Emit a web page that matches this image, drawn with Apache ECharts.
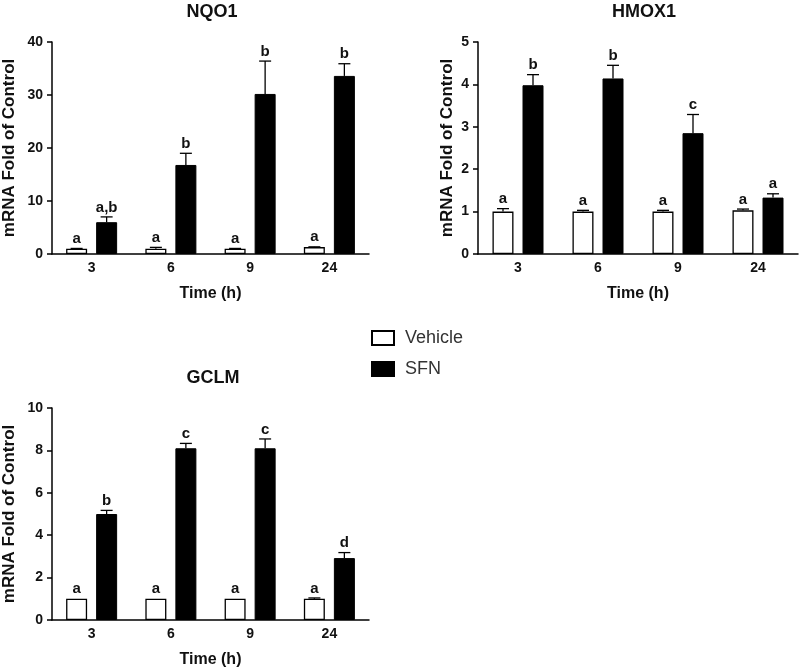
<!DOCTYPE html>
<html>
<head>
<meta charset="utf-8">
<script src="https://cdn.jsdelivr.net/npm/echarts@6/dist/echarts.min.js"></script>
<style>
html,body{margin:0;padding:0;background:#fff;}
#chart{width:800px;height:672px;}
</style>
</head>
<body>
<div id="chart"></div>
<script>
// ---- data ----
var categories = ['3', '6', '9', '24'];

var nqo1Vehicle = [1.0, 1.0, 1.0, 1.3];
var nqo1VehicleErr = [0.05, 0.25, 0.05, 0.05];
var nqo1SFN = [6.0, 16.8, 30.2, 33.6];
var nqo1SFNErr = [1.0, 2.2, 6.2, 2.3];
var nqo1VehicleLetters = ['a', 'a', 'a', 'a'];
var nqo1SFNLetters = ['a,b', 'b', 'b', 'b'];

var hmox1Vehicle = [1.0, 1.0, 1.0, 1.03];
var hmox1VehicleErr = [0.07, 0.03, 0.03, 0.03];
var hmox1SFN = [3.98, 4.14, 2.85, 1.33];
var hmox1SFNErr = [0.25, 0.31, 0.44, 0.09];
var hmox1VehicleLetters = ['a', 'a', 'a', 'a'];
var hmox1SFNLetters = ['b', 'b', 'c', 'a'];

var gclmVehicle = [1.0, 1.0, 1.0, 1.0];
var gclmVehicleErr = [0.0, 0.0, 0.0, 0.04];
var gclmSFN = [5.0, 8.1, 8.1, 2.92];
var gclmSFNErr = [0.17, 0.23, 0.44, 0.26];
var gclmVehicleLetters = ['a', 'a', 'a', 'a'];
var gclmSFNLetters = ['b', 'c', 'c', 'd'];

var panelTitles = ['NQO1', 'HMOX1', 'GCLM'];
var yMax = [40, 5, 10];
var yInterval = [10, 1, 2];
var xAxisName = 'Time (h)';
var yAxisName = 'mRNA Fold of Control';
var seriesNames = ['Vehicle', 'SFN'];

// ---- layout / style ----
var grids = [
  {left: 49, top: 42, width: 320, height: 212},
  {left: 478, top: 42, width: 320, height: 212},
  {left: 49, top: 408, width: 320, height: 212}
];
var yNameGap = [34, 22, 34];
var FONT = 'Liberation Sans, Arial, sans-serif';
var BAR_W = 21;
var OFFSET = 15; // half distance between bar centers

var panels = [
  {veh: nqo1Vehicle, vehErr: nqo1VehicleErr, sfn: nqo1SFN, sfnErr: nqo1SFNErr, vl: nqo1VehicleLetters, sl: nqo1SFNLetters},
  {veh: hmox1Vehicle, vehErr: hmox1VehicleErr, sfn: hmox1SFN, sfnErr: hmox1SFNErr, vl: hmox1VehicleLetters, sl: hmox1SFNLetters},
  {veh: gclmVehicle, vehErr: gclmVehicleErr, sfn: gclmSFN, sfnErr: gclmSFNErr, vl: gclmVehicleLetters, sl: gclmSFNLetters}
];

function errRender(dir) {
  return function (params, api) {
    var idx = api.value(0), mean = api.value(1), err = api.value(2);
    var letter = api.value(3);
    var base = api.coord([idx, mean]);
    var top = api.coord([idx, mean + err]);
    var x = base[0] + dir * OFFSET;
    var children = [];
    if (err > 0) {
      children.push({type: 'line', shape: {x1: x, y1: base[1], x2: x, y2: top[1]}, style: {stroke: '#000', lineWidth: 1.3}});
      children.push({type: 'line', shape: {x1: x - 6, y1: top[1], x2: x + 6, y2: top[1]}, style: {stroke: '#000', lineWidth: 1.3}});
    }
    children.push({type: 'text', x: x, y: top[1] - 2, style: {text: letter, fill: '#111', font: 'bold 15px ' + FONT, align: 'center', verticalAlign: 'bottom'}});
    return {type: 'group', children: children};
  };
}

var titleStyle = {fontFamily: FONT, fontWeight: 'bold', fontSize: 18, color: '#111'};
var option = {
  backgroundColor: '#fff',
  animation: false,
  title: [
    {text: panelTitles[0], left: 207, top: -2, textAlign: 'center', textStyle: titleStyle},
    {text: panelTitles[1], left: 639, top: -2, textAlign: 'center', textStyle: titleStyle},
    {text: panelTitles[2], left: 208, top: 364, textAlign: 'center', textStyle: titleStyle}
  ],
  legend: {
    orient: 'vertical', left: 371, top: 329, padding: 0,
    itemWidth: 22, itemHeight: 14, itemGap: 13,
    data: seriesNames.map(function (n) { return {name: n, icon: 'rect'}; }),
    textStyle: {fontFamily: FONT, fontSize: 18, color: '#333', padding: [0, 0, 0, 6]}
  },
  grid: grids,
  xAxis: grids.map(function (g, i) {
    return {
      type: 'category', gridIndex: i, data: categories,
      name: xAxisName, nameLocation: 'middle', nameGap: 32,
      nameTextStyle: {fontFamily: FONT, fontWeight: 'bold', fontSize: 16, color: '#111'},
      axisLine: {lineStyle: {color: '#000', width: 1.5}},
      axisTick: {alignWithLabel: true, length: 5, lineStyle: {color: '#000', width: 1.5}},
      axisLabel: {fontFamily: FONT, fontWeight: 'bold', fontSize: 14, color: '#111', margin: 7},
      splitLine: {show: false}
    };
  }),
  yAxis: grids.map(function (g, i) {
    return {
      type: 'value', gridIndex: i, min: 0, max: yMax[i], interval: yInterval[i],
      name: yAxisName, nameLocation: 'middle', nameGap: yNameGap[i], nameRotate: 90,
      nameTextStyle: {fontFamily: FONT, fontWeight: 'bold', fontSize: 17, color: '#111'},
      axisLine: {show: true, lineStyle: {color: '#000', width: 1.5}},
      axisTick: {show: true, length: 5, lineStyle: {color: '#000', width: 1.5}},
      axisLabel: {fontFamily: FONT, fontWeight: 'bold', fontSize: 14, color: '#111', margin: 9},
      splitLine: {show: false}
    };
  }),
  series: []
};

panels.forEach(function (p, i) {
  option.series.push({
    name: seriesNames[0], type: 'bar', xAxisIndex: i, yAxisIndex: i,
    data: p.veh, barWidth: BAR_W, barGap: '43%',
    itemStyle: {color: '#fff', borderColor: '#000', borderWidth: 1.3}
  });
  option.series.push({
    name: seriesNames[1], type: 'bar', xAxisIndex: i, yAxisIndex: i,
    data: p.sfn, barWidth: BAR_W, barGap: '43%',
    itemStyle: {color: '#000', borderColor: '#000', borderWidth: 1}
  });
  option.series.push({
    type: 'custom', xAxisIndex: i, yAxisIndex: i, z: 5,
    renderItem: errRender(-1),
    encode: {x: 0, y: 1},
    data: p.veh.map(function (v, k) { return [k, v, p.vehErr[k], p.vl[k]]; })
  });
  option.series.push({
    type: 'custom', xAxisIndex: i, yAxisIndex: i, z: 5,
    renderItem: errRender(1),
    encode: {x: 0, y: 1},
    data: p.sfn.map(function (v, k) { return [k, v, p.sfnErr[k], p.sl[k]]; })
  });
});

var chart = echarts.init(document.getElementById('chart'), null, {renderer: 'canvas'});
chart.setOption(option);
</script>
</body>
</html>
